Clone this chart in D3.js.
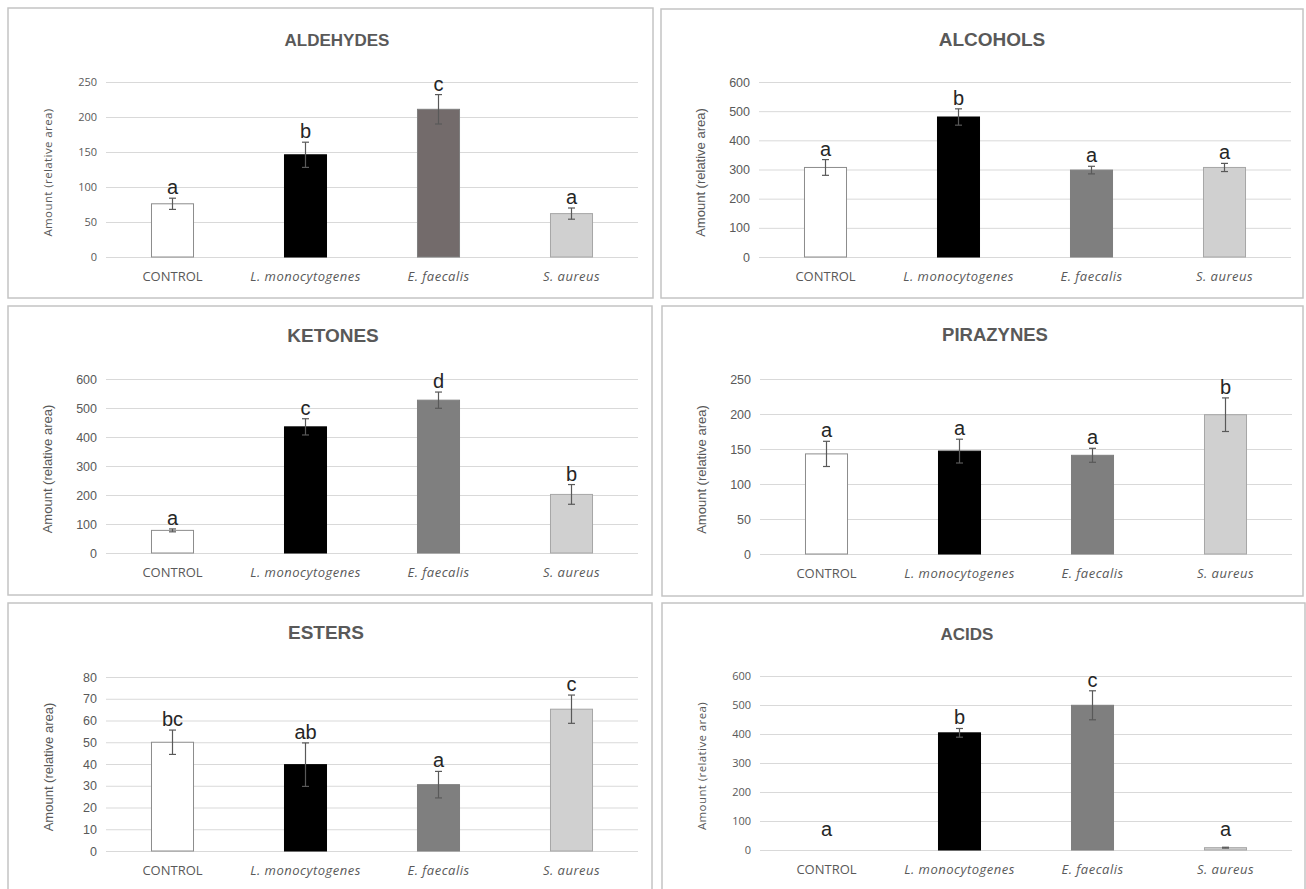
<!DOCTYPE html>
<html>
<head>
<meta charset="utf-8">
<script src="https://cdn.jsdelivr.net/npm/d3@7"></script>
<style>
  body { margin: 0; background: #fff; }
  svg { display: block; }
</style>
</head>
<body>
<div id="chart"></div>
<script>
// categories shared by every panel
const categories = ['CONTROL', 'L. monocytogenes', 'E. faecalis', 'S. aureus'];
const italicCats = [false, true, true, true];

// values (mean, error, letters, ticks)
const aldehydesMean = [76, 146, 211, 62];
const aldehydesErr = [8, 18, 21, 8];
const aldehydesLetters = ['a', 'b', 'c', 'a'];
const aldehydesTicks = [0, 50, 100, 150, 200, 250];

const alcoholsMean = [307, 480, 298, 307];
const alcoholsErr = [27, 28, 13, 14];
const alcoholsLetters = ['a', 'b', 'a', 'a'];
const alcoholsTicks = [0, 100, 200, 300, 400, 500, 600];

const ketonesMean = [78, 435, 527, 202];
const ketonesErr = [5, 28, 28, 34];
const ketonesLetters = ['a', 'c', 'd', 'b'];
const ketonesTicks = [0, 100, 200, 300, 400, 500, 600];

const pirazynesMean = [143, 147, 141, 199];
const pirazynesErr = [18, 17, 10, 24];
const pirazynesLetters = ['a', 'a', 'a', 'b'];
const pirazynesTicks = [0, 50, 100, 150, 200, 250];

const estersMean = [50, 39.7, 30.5, 65.2];
const estersErr = [5.6, 10, 6.1, 6.5];
const estersLetters = ['bc', 'ab', 'a', 'c'];
const estersTicks = [0, 10, 20, 30, 40, 50, 60, 70, 80];

const acidsMean = [0, 404, 499, 8];
const acidsErr = [0, 15, 50, 1.5];
const acidsLetters = ['a', 'b', 'c', 'a'];
const acidsTicks = [0, 100, 200, 300, 400, 500, 600];

const width = 1306;
const height = 889;

const svg = d3.select('#chart')
  .append('svg')
  .attr('width', width)
  .attr('height', height);

const grey = '#595959';
const baseFills = ['#ffffff', '#000000', '#7f7f7f', '#d0d0d0'];
const strokes = ['#8c8c8c', '#000000', '#7f7f7f', '#a6a6a6'];

// box: [x, y, w, h]; plot: [x0, yTop, x1, yBottom]
const panels = [
  {title: 'ALDEHYDES', mean: aldehydesMean, err: aldehydesErr, letters: aldehydesLetters, ticks: aldehydesTicks,
   box: [8, 8, 645, 290], plot: [106, 82, 638, 257], titleX: 337, titleY: 40, titleSize: 17,
   calibri: true, labelX: 48, fills: ['#ffffff', '#000000', '#736b6b', '#d0d0d0']},
  {title: 'ALCOHOLS', mean: alcoholsMean, err: alcoholsErr, letters: alcoholsLetters, ticks: alcoholsTicks,
   box: [661, 9, 642, 289], plot: [759, 82, 1291, 257], titleX: 992, titleY: 39, titleSize: 19,
   calibri: false, labelX: 700, fills: baseFills},
  {title: 'KETONES', mean: ketonesMean, err: ketonesErr, letters: ketonesLetters, ticks: ketonesTicks,
   box: [8, 306, 644, 289], plot: [106, 379, 638, 553], titleX: 333, titleY: 335, titleSize: 19,
   calibri: false, labelX: 47, fills: baseFills},
  {title: 'PIRAZYNES', mean: pirazynesMean, err: pirazynesErr, letters: pirazynesLetters, ticks: pirazynesTicks,
   box: [662, 306, 641, 290], plot: [760, 379, 1292, 554], titleX: 995, titleY: 335, titleSize: 18.5,
   calibri: false, labelX: 701, fills: baseFills},
  {title: 'ESTERS', mean: estersMean, err: estersErr, letters: estersLetters, ticks: estersTicks,
   box: [8, 603, 644, 292], plot: [106, 677, 638, 851], titleX: 326, titleY: 632, titleSize: 19,
   calibri: false, labelX: 48, fills: baseFills},
  {title: 'ACIDS', mean: acidsMean, err: acidsErr, letters: acidsLetters, ticks: acidsTicks,
   box: [662, 603, 643, 292], plot: [760, 676, 1292, 850], titleX: 967, titleY: 634, titleSize: 17,
   calibri: true, labelX: 702, fills: baseFills}
];

panels.forEach(drawPanel);

function drawPanel(p) {
  const g = svg.append('g');
  const [px0, pyTop, px1, pyBot] = p.plot;
  const tickFont = p.calibri ? "'Open Sans', sans-serif" : "'Liberation Sans', Arial, sans-serif";

  // frame
  g.append('rect')
    .attr('x', p.box[0]).attr('y', p.box[1])
    .attr('width', p.box[2]).attr('height', p.box[3])
    .attr('fill', '#fff')
    .attr('stroke', '#c4c4c4')
    .attr('stroke-width', 1.5);

  // title
  g.append('text')
    .attr('x', p.titleX).attr('y', p.titleY)
    .attr('dy', '0.35em')
    .attr('text-anchor', 'middle')
    .attr('font-family', "'Liberation Sans', Arial, sans-serif")
    .attr('font-weight', 'bold')
    .attr('font-size', p.titleSize)
    .attr('fill', grey)
    .text(p.title);

  const x = d3.scaleBand()
    .domain(categories)
    .range([px0, px1])
    .paddingInner(0.684)
    .paddingOuter(0.342);

  const y = d3.scaleLinear()
    .domain([0, d3.max(p.ticks)])
    .range([pyBot, pyTop]);

  // gridlines + tick labels
  const yAxis = g.append('g')
    .attr('transform', `translate(${px0},0)`)
    .call(d3.axisLeft(y)
      .tickValues(p.ticks)
      .tickSize(-(px1 - px0))
      .tickPadding(9)
      .tickFormat(d3.format('d')));
  yAxis.select('.domain').remove();
  yAxis.selectAll('line').attr('stroke', '#d9d9d9').attr('stroke-width', 1);
  yAxis.selectAll('text')
    .attr('font-family', tickFont)
    .attr('font-size', p.calibri ? 11 : 12.5)
    .attr('fill', grey);

  // category labels
  const xAxis = g.append('g')
    .attr('transform', `translate(0,${pyBot + 15})`)
    .call(d3.axisBottom(x).tickSize(0).tickPadding(0));
  xAxis.select('.domain').remove();
  xAxis.selectAll('text')
    .attr('font-family', "'Open Sans', sans-serif")
    .attr('font-size', 13)
    .attr('fill', grey)
    .attr('font-style', (d, i) => italicCats[i] ? 'italic' : 'normal')
    .attr('letter-spacing', (d, i) => italicCats[i] ? 0.5 : 0);

  // y title
  g.append('text')
    .attr('transform', `translate(${p.labelX},${(pyTop + pyBot) / 2 + 3}) rotate(-90)`)
    .attr('dy', '0.35em')
    .attr('text-anchor', 'middle')
    .attr('font-family', tickFont)
    .attr('font-size', p.calibri ? 11.5 : 13)
    .attr('letter-spacing', p.calibri ? 0.4 : 0)
    .attr('fill', grey)
    .text('Amount (relative area)');

  const rows = categories.map((c, i) => ({cat: c, i, mean: p.mean[i], err: p.err[i], letter: p.letters[i]}));

  // bars
  g.selectAll('rect.bar')
    .data(rows.filter(d => d.mean > 0))
    .join('rect')
      .attr('class', 'bar')
      .attr('x', d => x(d.cat))
      .attr('y', d => y(d.mean))
      .attr('width', x.bandwidth())
      .attr('height', d => y(0) - y(d.mean))
      .attr('fill', d => p.fills[d.i])
      .attr('stroke', d => strokes[d.i])
      .attr('stroke-width', 1);

  // error bars
  const eb = g.selectAll('g.err')
    .data(rows.filter(d => d.err > 0))
    .join('g')
      .attr('class', 'err')
      .attr('stroke', grey)
      .attr('stroke-width', 1.2);
  const cx = d => x(d.cat) + x.bandwidth() / 2;
  eb.append('line')
    .attr('x1', cx).attr('x2', cx)
    .attr('y1', d => y(d.mean + d.err)).attr('y2', d => y(d.mean - d.err));
  eb.append('line')
    .attr('x1', d => cx(d) - 3.5).attr('x2', d => cx(d) + 3.5)
    .attr('y1', d => y(d.mean + d.err)).attr('y2', d => y(d.mean + d.err));
  eb.append('line')
    .attr('x1', d => cx(d) - 3.5).attr('x2', d => cx(d) + 3.5)
    .attr('y1', d => y(d.mean - d.err)).attr('y2', d => y(d.mean - d.err));

  // significance letters
  g.selectAll('text.letter')
    .data(rows)
    .join('text')
      .attr('class', 'letter')
      .attr('x', cx)
      .attr('y', d => Math.min(y(d.mean + d.err) - 4, y(0) - 14))
      .attr('text-anchor', 'middle')
      .attr('font-family', "'Liberation Sans', Arial, sans-serif")
      .attr('font-size', 20)
      .attr('fill', '#262626')
      .text(d => d.letter);
}
</script>
</body>
</html>
